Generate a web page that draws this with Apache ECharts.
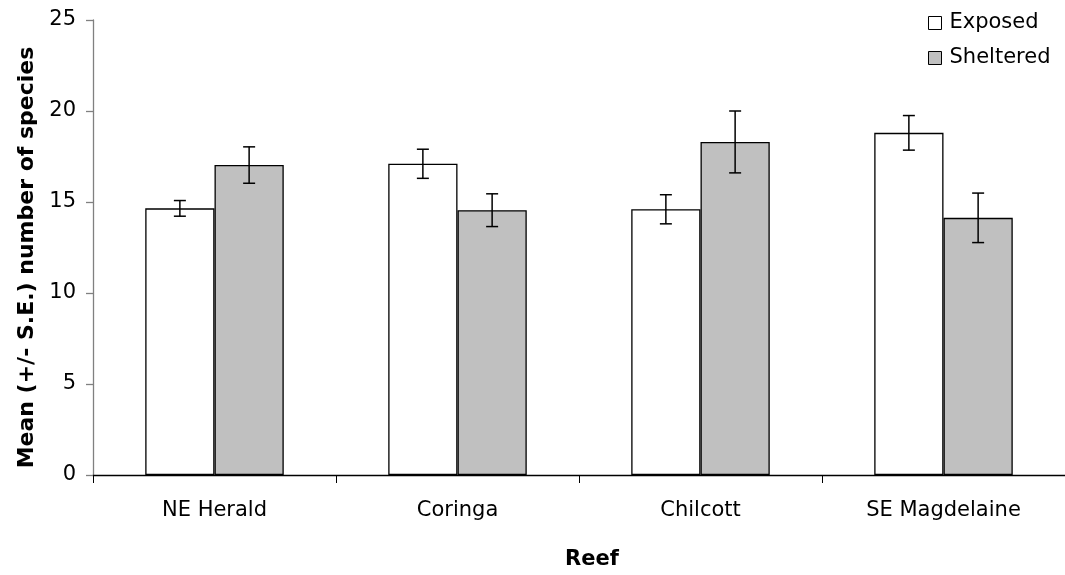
<!DOCTYPE html>
<html>
<head>
<meta charset="utf-8">
<script src="https://cdn.jsdelivr.net/npm/echarts@6/dist/echarts.min.js"></script>
<style>
html,body{margin:0;padding:0;background:#fff;}
#chart{width:1065px;height:575px;}
</style>
</head>
<body>
<div id="chart"></div>
<script>
var categories = ['NE Herald', 'Coringa', 'Chilcott', 'SE Magdelaine'];
var exposedMean = [14.65, 17.1, 14.6, 18.8];
var exposedSE = [0.43, 0.8, 0.8, 0.95];
var shelteredMean = [17.03, 14.55, 18.3, 14.13];
var shelteredSE = [1.0, 0.9, 1.7, 1.36];
var yTicks = [0, 5, 10, 15, 20, 25];

var FONT = 'DejaVu Sans';
var CAT_GAP = 0.43;

function errData(means, ses, sIdx) {
  return means.map(function (m, i) { return [i, m, ses[i], sIdx]; });
}

function renderErr(params, api) {
  var ci = api.value(0), m = api.value(1), se = api.value(2), s = api.value(3);
  var band = api.size([1, 0])[0];
  var off = band * (1 - CAT_GAP) / 4 * (s === 0 ? -1 : 1);
  var top = api.coord([ci, m + se]);
  var bot = api.coord([ci, m - se]);
  var x = top[0] + off;
  var cap = 6;
  var st = { stroke: '#000', lineWidth: 1.5 };
  return {
    type: 'group',
    children: [
      { type: 'line', shape: { x1: x, y1: top[1], x2: x, y2: bot[1] }, style: st },
      { type: 'line', shape: { x1: x - cap, y1: top[1], x2: x + cap, y2: top[1] }, style: st },
      { type: 'line', shape: { x1: x - cap, y1: bot[1], x2: x + cap, y2: bot[1] }, style: st }
    ]
  };
}

var chart = echarts.init(document.getElementById('chart'), null, { renderer: 'canvas' });
chart.setOption({
  animation: false,
  backgroundColor: '#fff',
  textStyle: { fontFamily: FONT },
  grid: { left: 93, top: 20, width: 980, height: 463, containLabel: false },
  legend: {
    orient: 'vertical',
    left: 923,
    top: 6,
    itemWidth: 13,
    itemHeight: 13,
    itemGap: 11,
    icon: 'rect',
    textStyle: { fontFamily: FONT, fontSize: 21, color: '#000', lineHeight: 24, padding: [0, 0, 0, 3] },
    data: [
      { name: 'Exposed', itemStyle: { color: '#fff', borderColor: '#000', borderWidth: 1 } },
      { name: 'Sheltered', itemStyle: { color: '#c0c0c0', borderColor: '#000', borderWidth: 1 } }
    ]
  },
  xAxis: {
    type: 'category',
    data: categories,
    name: 'Reef',
    nameLocation: 'middle',
    nameGap: 74,
    nameTextStyle: { fontFamily: FONT, fontSize: 21, fontWeight: 'bold', color: '#000', padding: [0, 0, 0, 26] },
    axisLine: { lineStyle: { color: '#000', width: 1.3 } },
    axisTick: { show: true, alignWithLabel: false, length: 8, lineStyle: { color: '#000', width: 1 } },
    axisLabel: { fontFamily: FONT, fontSize: 21, color: '#000', margin: 25 },
    splitLine: { show: false }
  },
  yAxis: {
    type: 'value',
    min: yTicks[0],
    max: yTicks[yTicks.length - 1],
    interval: yTicks[1] - yTicks[0],
    name: 'Mean (+/- S.E.) number of species',
    nameLocation: 'middle',
    nameGap: 38,
    nameTextStyle: { fontFamily: FONT, fontSize: 22, fontWeight: 'bold', color: '#000', padding: [0, 20, 0, 0] },
    axisLine: { show: true, lineStyle: { color: '#808080', width: 1.3 } },
    axisTick: { show: true, length: 7, lineStyle: { color: '#808080', width: 1.3 } },
    axisLabel: { fontFamily: FONT, fontSize: 21, color: '#000', margin: 17 },
    splitLine: { show: false }
  },
  series: [
    {
      name: 'Exposed', type: 'bar', data: exposedMean,
      barGap: '0%', barCategoryGap: (CAT_GAP * 100) + '%',
      itemStyle: { color: '#fff', borderColor: '#000', borderWidth: 1.3 }
    },
    {
      name: 'Sheltered', type: 'bar', data: shelteredMean,
      barGap: '0%', barCategoryGap: (CAT_GAP * 100) + '%',
      itemStyle: { color: '#c0c0c0', borderColor: '#000', borderWidth: 1.3 }
    },
    {
      type: 'custom', name: 'errExposed', renderItem: renderErr,
      data: errData(exposedMean, exposedSE, 0), z: 10,
      encode: { x: 0, y: 1 }
    },
    {
      type: 'custom', name: 'errSheltered', renderItem: renderErr,
      data: errData(shelteredMean, shelteredSE, 1), z: 10,
      encode: { x: 0, y: 1 }
    }
  ]
});
</script>
</body>
</html>
